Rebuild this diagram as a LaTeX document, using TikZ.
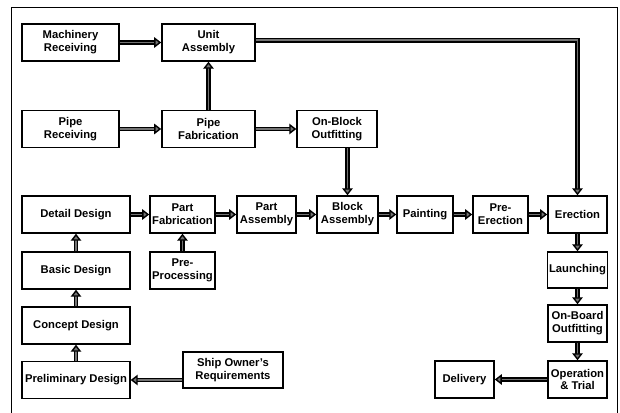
\documentclass[tikz,border=0pt]{standalone}
\usepackage{fontspec}
\setmainfont{Liberation Sans}
\usetikzlibrary{arrows.meta}

\tikzset{
	stage/.style={draw=black, line width=1pt, align=center, inner sep=1pt,
		minimum height=0.925cm, font=\bfseries\fontsize{8}{9.2}\selectfont},
	flow/.style={draw=black, line width=1pt, double=black!55, double distance=1.3pt,
		-{Triangle[length=5pt,width=7.5pt,fill=black!55]}}
}

\begin{document}
\begin{tikzpicture}[x=0.025cm, y=-0.025cm]
			\useasboundingbox (0,0) rectangle (620,413);
			\draw[black, line width=0.6pt] (11,413) |- (617,7) -- (617,413);
			
			% upper rows
			\node[stage, minimum width=2.43cm] (mach) at (70.5,42.5) {Machinery\\Receiving};
			\node[stage, minimum width=2.33cm] (unit) at (208.5,42.5) {Unit\\Assembly};
			\node[stage, minimum width=2.43cm] (piperec) at (70.5,129) {Pipe\\Receiving};
			\node[stage, minimum width=2.33cm] (pipefab) at (208.5,129) {Pipe\\Fabrication};
			\node[stage, minimum width=2.0cm] (onblock) at (337,129) {On-Block\\Outfitting};
			
			% production line
			\node[stage, minimum width=2.7cm] (detail) at (76,214.5) {Detail Design};
			\node[stage, minimum width=1.63cm] (partfab) at (182.5,214.5) {Part\\Fabrication};
			\node[stage, minimum width=1.48cm] (partasm) at (266.5,214.5) {Part\\Assembly};
			\node[stage, minimum width=1.53cm] (blockasm) at (347.5,214.5) {Block\\Assembly};
			\node[stage, minimum width=1.4cm] (paint) at (425,214.5) {Painting};
			\node[stage, minimum width=1.38cm] (preer) at (500.5,214.5) {Pre-\\Erection};
			\node[stage, minimum width=1.48cm] (erect) at (577.5,214.5) {Erection};
			\node[stage, minimum width=1.63cm] (preproc) at (182.5,270.5) {Pre-\\Processing};
			
			% design column
			\node[stage, minimum width=2.7cm] (basic) at (76,270.5) {Basic Design};
			\node[stage, minimum width=2.7cm] (concept) at (76,325.5) {Concept Design};
			\node[stage, minimum width=2.7cm] (prelim) at (76,380) {Preliminary Design};
			\node[stage, minimum width=2.5cm, minimum height=0.9cm] (owner) at (233,370) {Ship Owner's\\Requirements};
			
			% launching to delivery
			\node[stage, minimum width=1.48cm, minimum height=0.9cm] (launch) at (577.5,270) {Launching};
			\node[stage, minimum width=1.48cm] (onboard) at (577.5,323.5) {On-Board\\Outfitting};
			\node[stage, minimum width=1.48cm] (trial) at (577.5,379.5) {Operation\\\& Trial};
			\node[stage, minimum width=1.48cm] (deliv) at (464.5,379.5) {Delivery};
			
			\draw[flow] (mach) -- (unit);
			\draw[flow] (piperec) -- (pipefab);
			\draw[flow] (pipefab) -- (unit);
			\draw[flow] (pipefab) -- (onblock);
			\draw[flow] (blockasm.north |- onblock.south) -- (blockasm.north);
			\draw[flow] ([yshift=1.5pt]unit.east) -| (erect.north);
			
			\draw[flow] (detail) -- (partfab);
			\draw[flow] (partfab) -- (partasm);
			\draw[flow] (partasm) -- (blockasm);
			\draw[flow] (blockasm) -- (paint);
			\draw[flow] (paint) -- (preer);
			\draw[flow] (preer) -- (erect);
			\draw[flow] (preproc) -- (partfab);
			
			\draw[flow] (prelim) -- (concept);
			\draw[flow] (concept) -- (basic);
			\draw[flow] (basic) -- (detail);
			\draw[flow] (owner.west |- prelim.east) -- (prelim.east);
			
			\draw[flow] (erect) -- (launch);
			\draw[flow] (launch) -- (onboard);
			\draw[flow] (onboard) -- (trial);
			\draw[flow] (trial) -- (deliv);
		\end{tikzpicture}
\end{document}
